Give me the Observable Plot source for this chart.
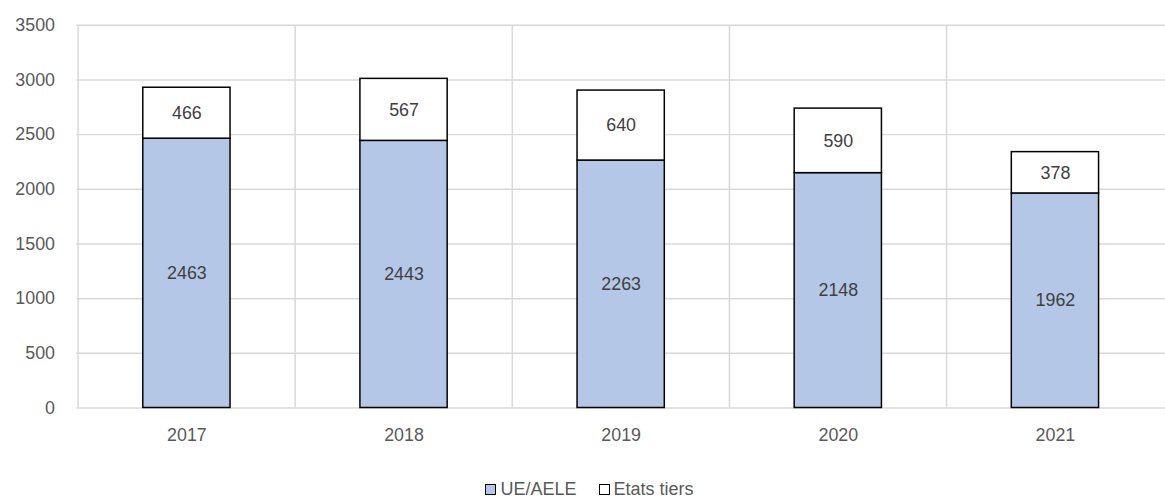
<!DOCTYPE html>
<html><head><meta charset="utf-8">
<script src="https://cdn.jsdelivr.net/npm/d3@7"></script>
<script src="https://cdn.jsdelivr.net/npm/@observablehq/plot@0.6"></script>
<style>
html,body{margin:0;padding:0;background:#fff;overflow:hidden;width:1165px;height:500px;}
#chart svg{display:block;}
.legend{position:absolute;top:479px;left:0;width:1165px;text-align:center;font-family:"Liberation Sans",Arial,sans-serif;font-size:18px;color:#595959;white-space:nowrap;padding-left:14px;box-sizing:border-box;}
.legend span.item{display:inline-block;margin:0 11px;}
.legend span.sw{display:inline-block;width:9px;height:9px;border:1.5px solid #000;margin-right:4px;vertical-align:0px;}
</style></head>
<body>
<div id="chart"></div>
<div class="legend" id="legend"></div>
<script>
const years = ["2017","2018","2019","2020","2021"];
const seriesNames = ["UE/AELE","Etats tiers"];
const ueAele = [2463,2443,2263,2148,1962];
const etatsTiers = [466,567,640,590,378];
const yTicks = [0,500,1000,1500,2000,2500,3000,3500];
const colors = ["#b4c7e7","#ffffff"];

const data = [];
years.forEach((yr,i)=>{
  data.push({year:yr, series:seriesNames[0], value:ueAele[i]});
  data.push({year:yr, series:seriesNames[1], value:etatsTiers[i]});
});

const font = '"Liberation Sans",Arial,sans-serif';
const W = 1175;
const step = (W - 77) / years.length;

const chart = Plot.plot({
  width: W, height: 460,
  marginLeft: 77, marginRight: 0, marginTop: 25, marginBottom: 49,
  style: {fontFamily: font, fontSize: "18px", color: "#595959", background: "#fff"},
  x: {domain: years, paddingInner: 0.6, paddingOuter: 0.3, label: null},
  y: {domain: [0,3500], label: null},
  color: {domain: seriesNames, range: colors},
  marks: [
    Plot.ruleY(yTicks, {stroke: "#d9d9d9", strokeWidth: 1.5}),
    Plot.ruleX(years, {x: d=>d, dx: -step/2, stroke: "#d9d9d9", strokeWidth: 1.5}),
    Plot.barY(data, {x: "year", y: "value", z: "series", fill: "series", stroke: "#000", strokeWidth: 1.5, order: seriesNames}),
    Plot.text(data, Plot.stackY({x: "year", y: "value", z: "series", text: d=>String(d.value), order: seriesNames, fill: "#404040", fontSize: 18})),
    Plot.axisX({tickSize: 0, tickPadding: 21, fill: "#595959"}),
    Plot.axisY({ticks: yTicks, tickFormat: d=>String(d), tickSize: 0, tickPadding: 22, fill: "#595959"})
  ]
});
document.getElementById("chart").appendChild(chart);

const lg = document.getElementById("legend");
seriesNames.forEach((s,i)=>{
  const it = document.createElement("span"); it.className="item";
  const sw = document.createElement("span"); sw.className="sw"; sw.style.background = colors[i];
  it.appendChild(sw); it.appendChild(document.createTextNode(s));
  lg.appendChild(it);
});
</script>
</body></html>
